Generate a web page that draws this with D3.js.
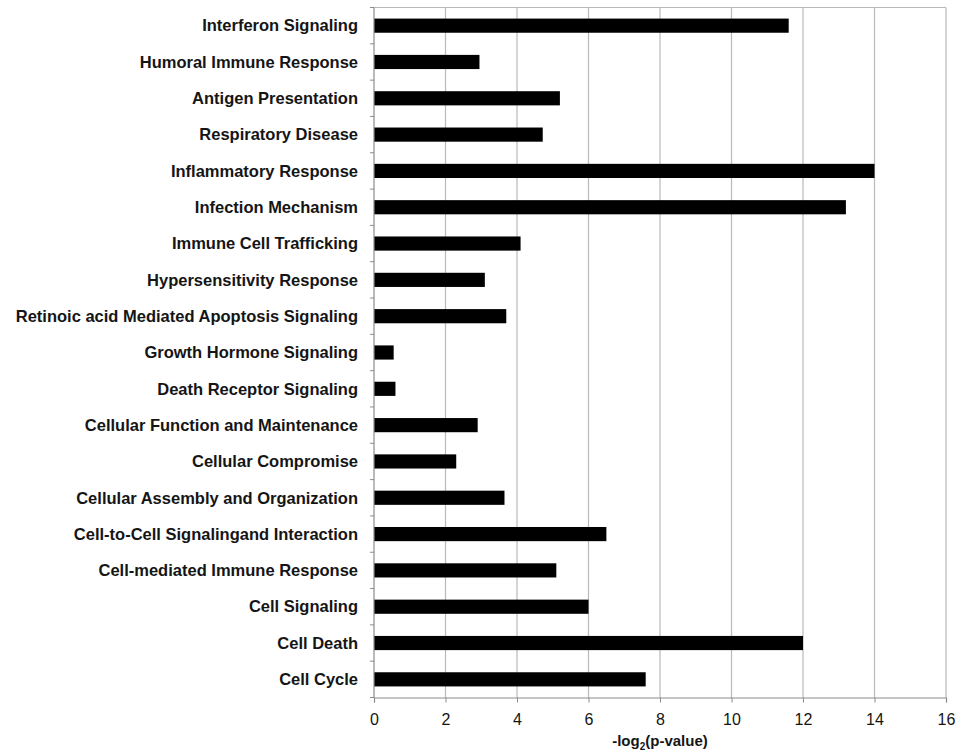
<!DOCTYPE html>
<html>
<head>
<meta charset="utf-8">
<script src="https://cdn.jsdelivr.net/npm/d3@7"></script>
<style>
  html, body { margin: 0; padding: 0; background: #ffffff; }
  svg { display: block; }
</style>
</head>
<body>
<svg id="chart" width="959" height="752"></svg>
<script>
// Pathway / function categories, listed top to bottom
const categories = [
  "Interferon Signaling",
  "Humoral Immune Response",
  "Antigen Presentation",
  "Respiratory Disease",
  "Inflammatory Response",
  "Infection Mechanism",
  "Immune Cell Trafficking",
  "Hypersensitivity Response",
  "Retinoic acid Mediated Apoptosis Signaling",
  "Growth Hormone Signaling",
  "Death Receptor Signaling",
  "Cellular Function and Maintenance",
  "Cellular Compromise",
  "Cellular Assembly and Organization",
  "Cell-to-Cell Signalingand Interaction",
  "Cell-mediated Immune Response",
  "Cell Signaling",
  "Cell Death",
  "Cell Cycle"
];

// -log2(p-value) per category
const values = [11.6, 2.95, 5.2, 4.72, 14.0, 13.2, 4.1, 3.1, 3.7, 0.55, 0.6, 2.9, 2.3, 3.65, 6.5, 5.1, 6.0, 12.0, 7.6];

// x-axis tick values
const xTicks = [0, 2, 4, 6, 8, 10, 12, 14, 16];

const svg = d3.select("#chart");
const margin = { left: 374, right: 13, top: 7.5, bottom: 54.5 };
const W = 959, H = 752;
const innerW = W - margin.left - margin.right;
const innerH = H - margin.top - margin.bottom;

const g = svg.append("g").attr("transform", `translate(${margin.left},${margin.top})`);

const x = d3.scaleLinear().domain([0, 16]).range([0, innerW]);
const y = d3.scaleBand().domain(categories).range([0, innerH]).paddingInner(0.61).paddingOuter(0.305);

const gridColor = "#b9b9b9";
const axisColor = "#8c8c8c";
const font = "'Liberation Sans', Arial, sans-serif";

// vertical gridlines
g.append("g")
  .selectAll("line")
  .data(xTicks.filter(d => d > 0))
  .join("line")
  .attr("x1", d => x(d)).attr("x2", d => x(d))
  .attr("y1", 0).attr("y2", innerH)
  .attr("stroke", gridColor).attr("stroke-width", 1.2);

// top edge of plot area
g.append("line")
  .attr("x1", 0).attr("x2", innerW)
  .attr("y1", 0).attr("y2", 0)
  .attr("stroke", gridColor).attr("stroke-width", 1.2);

// bars
g.append("g")
  .selectAll("rect")
  .data(categories)
  .join("rect")
  .attr("x", x(0))
  .attr("y", d => y(d))
  .attr("width", (d, i) => x(values[i]) - x(0))
  .attr("height", y.bandwidth())
  .attr("fill", "#000000");

// y axis: tick marks at category boundaries
const boundaries = d3.range(categories.length + 1).map(i => i * innerH / categories.length);
g.append("g")
  .selectAll("line")
  .data(boundaries)
  .join("line")
  .attr("x1", -4).attr("x2", 0)
  .attr("y1", d => d).attr("y2", d => d)
  .attr("stroke", axisColor).attr("stroke-width", 1);
g.append("line")
  .attr("x1", 0).attr("x2", 0)
  .attr("y1", 0).attr("y2", innerH)
  .attr("stroke", axisColor).attr("stroke-width", 1.2);

// category labels
g.append("g")
  .selectAll("text")
  .data(categories)
  .join("text")
  .attr("x", -16)
  .attr("y", d => y(d) + y.bandwidth() / 2)
  .attr("dy", "0.35em")
  .attr("text-anchor", "end")
  .attr("font-family", font)
  .attr("font-weight", "bold")
  .attr("font-size", 16.5)
  .attr("fill", "#151515")
  .text(d => d);

// x axis
const xAxis = d3.axisBottom(x).tickValues(xTicks).tickSize(5).tickPadding(11).tickFormat(d3.format("d"));
const xg = g.append("g").attr("transform", `translate(0,${innerH})`).call(xAxis);
xg.select(".domain").attr("stroke", axisColor).attr("stroke-width", 1.2);
xg.selectAll(".tick line").attr("stroke", axisColor);
xg.selectAll(".tick text")
  .attr("font-family", font)
  .attr("font-size", 16)
  .attr("fill", "#151515");

// x axis title with subscript
const title = svg.append("text")
  .attr("x", margin.left + innerW / 2)
  .attr("y", 746)
  .attr("text-anchor", "middle")
  .attr("font-family", font)
  .attr("font-weight", "bold")
  .attr("font-size", 15)
  .attr("fill", "#151515");
title.append("tspan").text("-log");
title.append("tspan").attr("font-size", 10).attr("dy", 4).text("2");
title.append("tspan").attr("dy", -4).text("(p-value)");
</script>
</body>
</html>
